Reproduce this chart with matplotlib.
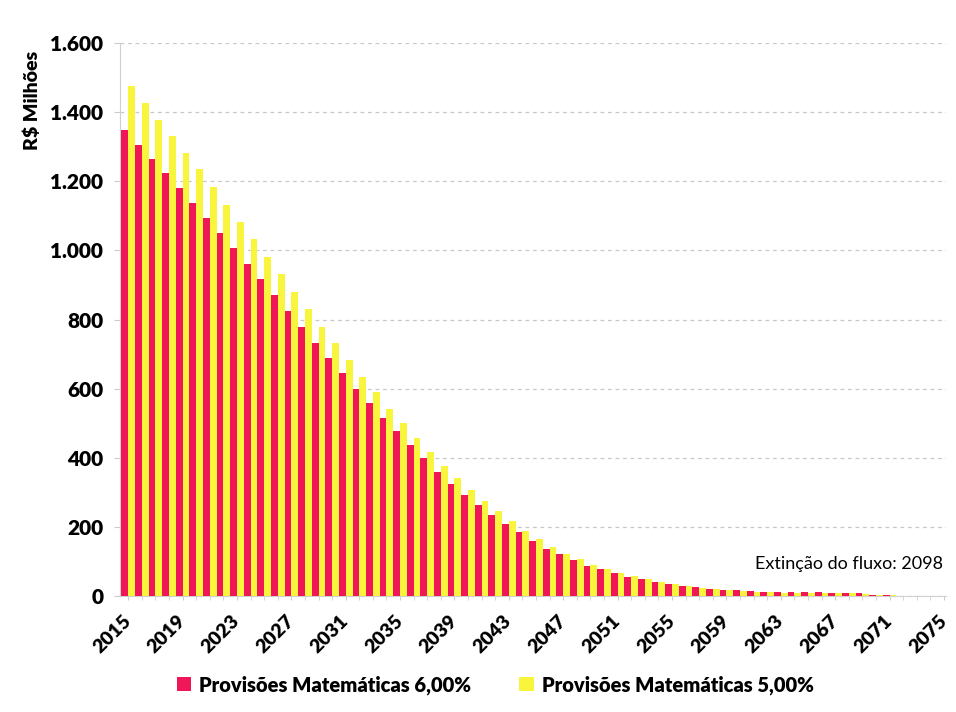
import matplotlib
matplotlib.use("Agg")
import matplotlib.pyplot as plt
import matplotlib.transforms as mtransforms
import numpy as np

years = list(range(2015, 2076))

prov_6 = [1348, 1304, 1263, 1223, 1181, 1136, 1093, 1050, 1006, 960,
          916, 870, 824, 779, 732, 688, 644, 600, 559, 514,
          476, 436, 399, 360, 325, 293, 263, 234, 207, 184,
          159, 137, 121, 103, 88, 77, 66, 56, 48, 41,
          35, 30, 25, 21, 18, 16, 14, 13, 12, 12,
          11, 11, 10, 10, 9, 3, 2, 1, 1, 1, 1]

prov_5 = [1475, 1425, 1376, 1330, 1283, 1234, 1183, 1132, 1083, 1032,
          982, 932, 880, 831, 778, 731, 684, 635, 589, 541,
          501, 457, 417, 376, 341, 308, 275, 246, 217, 187,
          164, 142, 122, 107, 89, 79, 67, 57, 49, 41,
          34, 28, 23, 19, 16, 14, 12, 11, 10, 10,
          9, 9, 8, 8, 7, 2, 2, 1, 1, 1, 1]

yticks = [0, 200, 400, 600, 800, 1000, 1200, 1400, 1600]
ytick_labels = ["0", "200", "400", "600", "800", "1.000", "1.200", "1.400", "1.600"]
xtick_years = list(range(2015, 2076, 4))

label_6 = "Provisões Matemáticas 6,00%"
label_5 = "Provisões Matemáticas 5,00%"
ylabel = "R$ Milhões"
note = "Extinção do fluxo: 2098"

RED = "#EF1757"
YELLOW = "#F9F53C"
FONT = ["Lato", "DejaVu Sans"]

plt.rcParams["font.family"] = FONT

fig = plt.figure(figsize=(9.56, 7.12), dpi=100)
ax = fig.add_axes([120 / 956, 1 - 596 / 712, (946 - 120) / 956, (596 - 43) / 712])

x = np.array(years, dtype=float)
w = 0.5
ax.bar(x - w / 2, prov_6, width=w, color=RED, label=label_6, zorder=3, linewidth=0)
ax.bar(x + w / 2, prov_5, width=w, color=YELLOW, label=label_5, zorder=2, linewidth=0)

ax.set_xlim(2015 - 0.6, 2075 + 0.15)
ax.set_ylim(0, 1600)

ax.set_yticks(yticks)
ax.set_yticklabels(ytick_labels, fontsize=15, fontweight="heavy")
ax.set_xticks(xtick_years)
ax.set_xticklabels([str(y) for y in xtick_years], fontsize=14, fontweight="heavy",
                   rotation=45, ha="right", va="center", rotation_mode="anchor")
offset = mtransforms.ScaledTranslation(6 / 100, 0, fig.dpi_scale_trans)
for lbl in ax.get_xticklabels():
    lbl.set_transform(lbl.get_transform() + offset)
ax.set_xticks(years, minor=True)
ax.tick_params(axis="x", which="both", length=3, color="#cccccc", pad=13)
ax.tick_params(axis="y", length=4, color="#cccccc", pad=8)

ax.yaxis.grid(True, color="#c8c8c8", linestyle=(0, (3, 3)), linewidth=0.9, zorder=0)
ax.set_axisbelow(True)
for s in ["top", "right"]:
    ax.spines[s].set_visible(False)
ax.spines["left"].set_color("#d0d0d0")
ax.spines["bottom"].set_color("#d0d0d0")

fig.text(32 / 956, 1 - 100 / 712, ylabel, rotation=90, ha="center", va="center",
         fontsize=14, fontweight="heavy")

ax.text(0.996, 0.043, note, transform=ax.transAxes, ha="right", va="bottom",
        fontsize=13)

leg = fig.legend(loc="center", bbox_to_anchor=(0.518, 1 - 685 / 712), ncol=2,
                 frameon=False, prop={"size": 14.5, "weight": "heavy"},
                 handlelength=0.7, handleheight=0.7, handletextpad=0.4,
                 columnspacing=2.4)

fig.savefig("out.png", dpi=100, facecolor="white")
